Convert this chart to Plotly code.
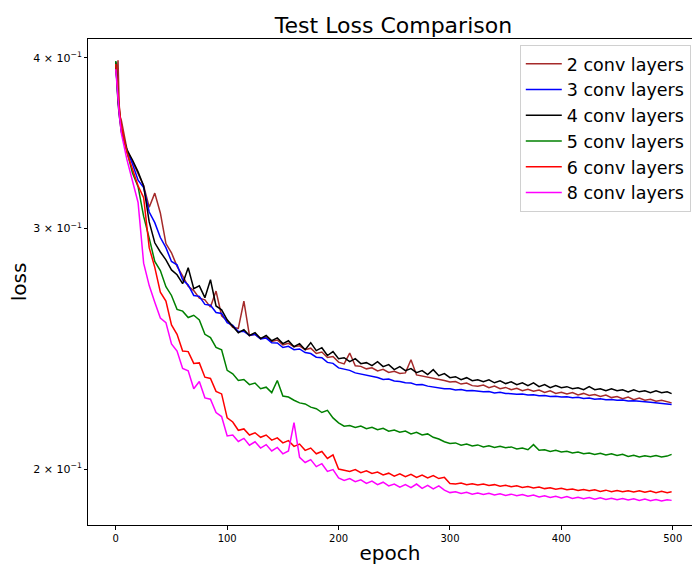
import plotly.graph_objects as go

# Epochs at which the test loss is listed
epochs = [0, 1, 2, 3, 4] + list(range(5, 500, 5)) + [499]

loss_2conv = [
    0.3960, 0.3850, 0.3985, 0.3700, 0.3620, 0.3600,
    0.3430, 0.3362, 0.3290, 0.3225, 0.3110, 0.3185, 0.3080, 0.2925, 0.2880, 0.2815,
    0.2770, 0.2722, 0.2702, 0.2668, 0.2660, 0.2628, 0.2700, 0.2590, 0.2568, 0.2540,
    0.2535, 0.2655, 0.2505, 0.2510, 0.2492, 0.2498, 0.2480, 0.2486, 0.2466, 0.2472,
    0.2458, 0.2462, 0.2446, 0.2452, 0.2430, 0.2436, 0.2414, 0.2418, 0.2395,
    0.2388, 0.2432, 0.2380, 0.2378, 0.2368, 0.2372, 0.2360, 0.2366, 0.2354, 0.2358,
    0.2350, 0.2352, 0.2405, 0.2344, 0.2340, 0.2336, 0.2332, 0.2328, 0.2322, 0.2316,
    0.2318, 0.2308, 0.2312, 0.2302, 0.2300, 0.2304, 0.2294, 0.2300, 0.2290, 0.2295,
    0.2286, 0.2292, 0.2282, 0.2288, 0.2280, 0.2285, 0.2276, 0.2282, 0.2272, 0.2276,
    0.2270, 0.2275, 0.2266, 0.2272, 0.2264, 0.2268, 0.2260, 0.2266, 0.2256, 0.2260,
    0.2252, 0.2258, 0.2248, 0.2254, 0.2246, 0.2250, 0.2242, 0.2246, 0.2240, 0.2236,
]

loss_3conv = [
    0.3968, 0.3820, 0.3735, 0.3660, 0.3605, 0.3545,
    0.3425, 0.3345, 0.3255, 0.3215, 0.3085, 0.3030, 0.2955, 0.2905, 0.2838, 0.2822,
    0.2752, 0.2728, 0.2680, 0.2676, 0.2640, 0.2636, 0.2604, 0.2600, 0.2560, 0.2548,
    0.2522, 0.2522, 0.2505, 0.2510, 0.2490, 0.2494, 0.2475, 0.2474, 0.2455, 0.2460,
    0.2446, 0.2449, 0.2434, 0.2430, 0.2415, 0.2413, 0.2394, 0.2390, 0.2372,
    0.2366, 0.2362, 0.2352, 0.2348, 0.2341, 0.2338, 0.2334, 0.2326, 0.2328, 0.2320,
    0.2318, 0.2313, 0.2312, 0.2305, 0.2306, 0.2300, 0.2297, 0.2295, 0.2290, 0.2290,
    0.2285, 0.2287, 0.2282, 0.2283, 0.2280, 0.2278, 0.2279, 0.2274, 0.2276, 0.2272,
    0.2271, 0.2269, 0.2270, 0.2266, 0.2267, 0.2263, 0.2264, 0.2260, 0.2261, 0.2258,
    0.2259, 0.2255, 0.2257, 0.2253, 0.2254, 0.2250, 0.2252, 0.2248, 0.2249, 0.2246,
    0.2247, 0.2243, 0.2244, 0.2241, 0.2240, 0.2238, 0.2236, 0.2234, 0.2233, 0.2230,
]

loss_4conv = [
    0.3974, 0.3803, 0.3713, 0.3639, 0.3579, 0.3531,
    0.3425, 0.3368, 0.3301, 0.3224, 0.3034, 0.2929, 0.2884, 0.2846, 0.2798, 0.2775,
    0.2734, 0.2808, 0.2711, 0.2724, 0.2670, 0.2752, 0.2633, 0.2616, 0.2572, 0.2546,
    0.2517, 0.2530, 0.2505, 0.2517, 0.2492, 0.2505, 0.2483, 0.2495, 0.2471, 0.2483,
    0.2458, 0.2471, 0.2446, 0.2475, 0.2442, 0.2454, 0.2422, 0.2438, 0.2409,
    0.2413, 0.2397, 0.2409, 0.2389, 0.2393, 0.2381, 0.2397, 0.2377, 0.2385, 0.2365,
    0.2377, 0.2361, 0.2369, 0.2353, 0.2361, 0.2345, 0.2365, 0.2341, 0.2349, 0.2333,
    0.2337, 0.2325, 0.2333, 0.2321, 0.2325, 0.2317, 0.2325, 0.2313, 0.2321, 0.2310,
    0.2317, 0.2306, 0.2313, 0.2302, 0.2313, 0.2298, 0.2306, 0.2294, 0.2302, 0.2294,
    0.2298, 0.2290, 0.2294, 0.2286, 0.2298, 0.2286, 0.2290, 0.2282, 0.2290, 0.2282,
    0.2286, 0.2278, 0.2286, 0.2278, 0.2282, 0.2275, 0.2282, 0.2275, 0.2278, 0.2271,
]

loss_5conv = [
    0.3980, 0.3830, 0.3745, 0.3670, 0.3612, 0.3552,
    0.3418, 0.3295, 0.3220, 0.3062, 0.2952, 0.2838, 0.2795, 0.2720, 0.2680, 0.2618,
    0.2610, 0.2582, 0.2592, 0.2572, 0.2510, 0.2496, 0.2455, 0.2445, 0.2362, 0.2348,
    0.2322, 0.2326, 0.2306, 0.2312, 0.2290, 0.2296, 0.2275, 0.2322, 0.2262, 0.2258,
    0.2246, 0.2236, 0.2232, 0.2220, 0.2214, 0.2200, 0.2208, 0.2180, 0.2162,
    0.2150, 0.2152, 0.2145, 0.2150, 0.2141, 0.2146, 0.2137, 0.2142, 0.2132, 0.2136,
    0.2128, 0.2132, 0.2122, 0.2128, 0.2118, 0.2122, 0.2110, 0.2104, 0.2094, 0.2088,
    0.2090, 0.2082, 0.2086, 0.2079, 0.2083, 0.2076, 0.2080, 0.2074, 0.2078, 0.2073,
    0.2076, 0.2069, 0.2072, 0.2066, 0.2084, 0.2064, 0.2066, 0.2060, 0.2064, 0.2058,
    0.2061, 0.2055, 0.2058, 0.2052, 0.2055, 0.2050, 0.2054, 0.2048, 0.2052, 0.2046,
    0.2050, 0.2043, 0.2047, 0.2041, 0.2045, 0.2042, 0.2046, 0.2041, 0.2044, 0.2050,
]

loss_6conv = [
    0.3960, 0.3845, 0.3750, 0.3685, 0.3622, 0.3565,
    0.3410, 0.3320, 0.3225, 0.3160, 0.2905, 0.2810, 0.2695, 0.2655, 0.2550, 0.2510,
    0.2440, 0.2438, 0.2390, 0.2392, 0.2335, 0.2330, 0.2280, 0.2270, 0.2180, 0.2165,
    0.2135, 0.2140, 0.2118, 0.2126, 0.2110, 0.2118, 0.2100, 0.2108, 0.2090, 0.2098,
    0.2078, 0.2086, 0.2064, 0.2072, 0.2052, 0.2060, 0.2036, 0.2048, 0.2000,
    0.1996, 0.1992, 0.1998, 0.1988, 0.1994, 0.1985, 0.1990, 0.1980, 0.1986, 0.1976,
    0.1984, 0.1974, 0.1982, 0.1972, 0.1980, 0.1970, 0.1978, 0.1968, 0.1972, 0.1952,
    0.1950, 0.1953, 0.1948, 0.1951, 0.1947, 0.1950, 0.1945, 0.1948, 0.1943, 0.1946,
    0.1941, 0.1944, 0.1939, 0.1942, 0.1937, 0.1940, 0.1935, 0.1938, 0.1933, 0.1936,
    0.1931, 0.1934, 0.1929, 0.1932, 0.1928, 0.1931, 0.1926, 0.1930, 0.1925, 0.1929,
    0.1925, 0.1928, 0.1924, 0.1928, 0.1923, 0.1927, 0.1922, 0.1926, 0.1922, 0.1925,
]

loss_8conv = [
    0.3925, 0.3805, 0.3720, 0.3645, 0.3582, 0.3522,
    0.3370, 0.3250, 0.3135, 0.2830, 0.2725, 0.2650, 0.2580, 0.2560, 0.2470, 0.2440,
    0.2370, 0.2360, 0.2290, 0.2318, 0.2255, 0.2250, 0.2200, 0.2185, 0.2115, 0.2118,
    0.2095, 0.2106, 0.2082, 0.2094, 0.2072, 0.2084, 0.2062, 0.2074, 0.2052, 0.2062,
    0.2163, 0.2040, 0.2022, 0.2032, 0.2008, 0.2018, 0.1992, 0.1998, 0.1970,
    0.1962, 0.1968, 0.1958, 0.1964, 0.1952, 0.1960, 0.1948, 0.1956, 0.1944, 0.1950,
    0.1940, 0.1948, 0.1938, 0.1950, 0.1936, 0.1946, 0.1934, 0.1944, 0.1930, 0.1922,
    0.1925, 0.1919, 0.1923, 0.1917, 0.1921, 0.1916, 0.1920, 0.1914, 0.1918, 0.1913,
    0.1917, 0.1912, 0.1916, 0.1910, 0.1914, 0.1908, 0.1912, 0.1906, 0.1910, 0.1905,
    0.1909, 0.1903, 0.1907, 0.1902, 0.1906, 0.1901, 0.1905, 0.1900, 0.1904, 0.1899,
    0.1903, 0.1898, 0.1902, 0.1897, 0.1901, 0.1896, 0.1900, 0.1895, 0.1899, 0.1897,
]

series_names = ["2 conv layers", "3 conv layers", "4 conv layers",
                "5 conv layers", "6 conv layers", "8 conv layers"]
series_values = [loss_2conv, loss_3conv, loss_4conv, loss_5conv, loss_6conv, loss_8conv]
series_colors = ["#A52A2A", "#0000FF", "#000000", "#008000", "#FF0000", "#FF00FF"]

y_tick_values = [0.2, 0.3, 0.4]
y_tick_labels = ["2 × 10<sup>−1</sup>", "3 × 10<sup>−1</sup>", "4 × 10<sup>−1</sup>"]
x_tick_values = [0, 100, 200, 300, 400, 500]

FONT = "DejaVu Sans"

fig = go.Figure()
for name, vals, col in zip(series_names, series_values, series_colors):
    fig.add_trace(go.Scatter(
        x=epochs, y=vals, mode="lines", name=name,
        line=dict(color=col, width=1.5),
    ))

fig.update_layout(
    width=692, height=565, autosize=False,
    margin=dict(l=88, r=0, t=39, b=40, pad=0),
    paper_bgcolor="white", plot_bgcolor="white",
    font=dict(family=FONT, color="black"),
    title=dict(text="Test Loss Comparison", font=dict(size=22, family=FONT, color="black"),
               x=393.5 / 692, xanchor="center", xref="container",
               y=1 - 25 / 565, yanchor="middle", yref="container"),
    showlegend=True,
    legend=dict(
        x=0.998, xanchor="right", y=0.988, yanchor="top",
        font=dict(size=17.5, family=FONT, color="black"),
        bgcolor="rgba(255,255,255,0.8)", bordercolor="#d0d0d0", borderwidth=1,
        tracegroupgap=0, itemwidth=36,
    ),
)

fig.update_xaxes(
    range=[-24.95, 517.3], showgrid=False, zeroline=False, automargin=False,
    showline=True, linecolor="black", linewidth=1, mirror=True,
    ticks="outside", ticklen=4, tickwidth=1, tickcolor="black",
    tickvals=x_tick_values, tickfont=dict(size=10, family=FONT, color="black"),
    title=dict(text="epoch", font=dict(size=20, family=FONT, color="black"), standoff=15),
)

fig.update_yaxes(
    type="log", range=[-0.73997, -0.38403], showgrid=False, zeroline=False,
    automargin=False,
    showline=True, linecolor="black", linewidth=1, mirror=False,
    ticks="outside", ticklen=3, tickwidth=1, tickcolor="black",
    tickvals=y_tick_values, ticktext=y_tick_labels,
    tickfont=dict(size=11, family=FONT, color="black"),
    title=dict(text="loss", font=dict(size=20, family=FONT, color="black"), standoff=1),
)

fig.write_html("out.html")
